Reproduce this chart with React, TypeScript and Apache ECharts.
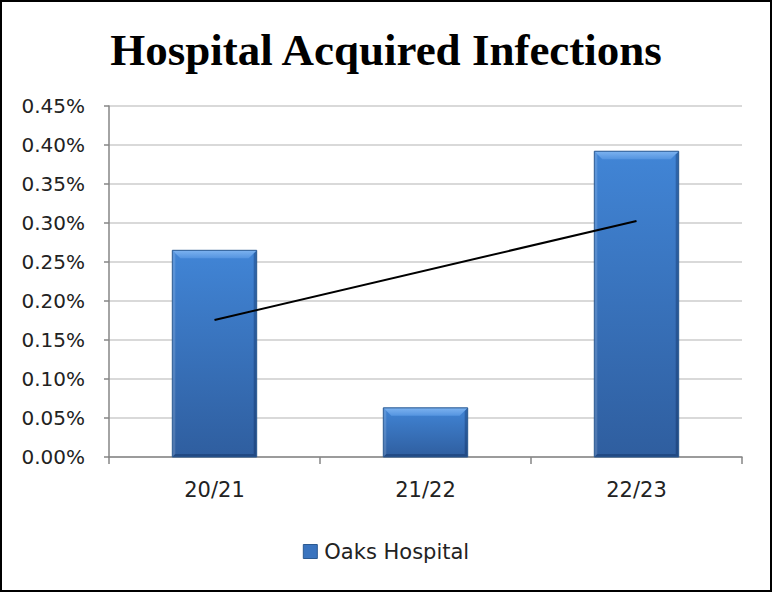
import React, { useEffect, useRef } from "react";
import * as echarts from "echarts";

const categories = ["20/21", "21/22", "22/23"];
const values = [0.265, 0.063, 0.392];
const trendValues = [0.1756, null, 0.3026];
const yTicks = { min: 0, max: 0.45, interval: 0.05 };
const seriesName = "Oaks Hospital";
const titleText = "Hospital Acquired Infections";

export default function App() {
  const ref = useRef<HTMLDivElement>(null);
  useEffect(() => {
    document.body.style.margin = "0";
    const chart = echarts.init(ref.current!, null, { renderer: "svg" });
    const font = "DejaVu Sans";
    const mainFill = new echarts.graphic.LinearGradient(0, 0, 0, 1, [
      { offset: 0, color: "#4185d6" },
      { offset: 1, color: "#2f5e9f" },
    ]);
    const topFill = new echarts.graphic.LinearGradient(0, 0, 0, 1, [
      { offset: 0, color: "#7db3f0" },
      { offset: 1, color: "#5494e0" },
    ]);
    const option: any = {
      animation: false,
      backgroundColor: "#ffffff",
      title: {
        text: titleText,
        left: "center",
        top: 22,
        textStyle: {
          fontFamily: "Liberation Serif",
          fontWeight: "bold",
          fontSize: 45,
          color: "#000",
        },
      },
      grid: { left: 109, right: 30, top: 106, bottom: 135, containLabel: false },
      legend: {
        data: [
          {
            name: seriesName,
            icon: "rect",
            itemStyle: { color: "#3a74bf", borderColor: "#2c5a91", borderWidth: 1 },
          },
        ],
        top: 536,
        left: "center",
        itemWidth: 14,
        itemHeight: 14,
        itemGap: 6,
        textStyle: { fontFamily: font, fontSize: 21, color: "#222", padding: [0, 0, 0, 2] },
      },
      xAxis: {
        type: "category",
        data: categories,
        boundaryGap: true,
        axisLine: { show: true, lineStyle: { color: "#868686", width: 1.5 } },
        axisTick: { show: true, length: 7, alignWithLabel: false, lineStyle: { color: "#868686", width: 1.5 } },
        axisLabel: { fontFamily: font, fontSize: 21, color: "#222", margin: 22 },
        splitLine: { show: false },
      },
      yAxis: {
        type: "value",
        min: yTicks.min,
        max: yTicks.max,
        interval: yTicks.interval,
        axisLine: { show: true, lineStyle: { color: "#868686", width: 1.5 } },
        axisTick: { show: true, length: 5, inside: false, lineStyle: { color: "#868686", width: 1.5 } },
        axisLabel: {
          fontFamily: font,
          fontSize: 20,
          color: "#222",
          margin: 24,
          formatter: (v: number) => v.toFixed(2) + "%",
        },
        splitLine: { show: true, lineStyle: { color: "#d9d9d9", width: 2 } },
      },
      series: [
        {
          name: seriesName,
          type: "custom",
          data: categories.map((c, i) => [i, values[i]]),
          encode: { x: 0, y: 1 },
          itemStyle: { color: "#3a74bf" },
          renderItem: (params: any, api: any) => {
            const idx = api.value(0);
            const v = api.value(1);
            const top = api.coord([idx, v]);
            const base = api.coord([idx, 0]);
            const band = api.size([1, 0])[0];
            const w = band * 0.4;
            const x0 = top[0] - w / 2;
            const x1 = top[0] + w / 2;
            const y0 = top[1];
            const y1 = base[1];
            const h = y1 - y0;
            const t = Math.min(8, h / 3);
            const s = 3;
            const bm = Math.min(3, h / 4);
            return {
              type: "group",
              children: [
                {
                  type: "rect",
                  shape: { x: x0, y: y0, width: w, height: h },
                  style: { fill: mainFill },
                },
                {
                  type: "polygon",
                  shape: { points: [[x0, y0], [x0 + s, y0 + s], [x0 + s, y1 - bm], [x0, y1]] },
                  style: { fill: "rgba(255,255,255,0.15)" },
                },
                {
                  type: "polygon",
                  shape: { points: [[x1, y0], [x1 - s, y0 + s], [x1 - s, y1 - bm], [x1, y1]] },
                  style: { fill: "rgba(0,20,60,0.28)" },
                },
                {
                  type: "polygon",
                  shape: { points: [[x0, y1], [x0 + s, y1 - bm], [x1 - s, y1 - bm], [x1, y1]] },
                  style: { fill: "rgba(0,20,60,0.28)" },
                },
                {
                  type: "polygon",
                  shape: { points: [[x0, y0], [x1, y0], [x1 - t, y0 + t], [x0 + t, y0 + t]] },
                  style: { fill: topFill },
                },
                {
                  type: "rect",
                  shape: { x: x0, y: y0, width: w, height: h },
                  style: { fill: "none", stroke: "#2c5a91", lineWidth: 1 },
                },
              ],
            };
          },
          z: 2,
        },
        {
          name: "Trend",
          type: "line",
          data: trendValues,
          connectNulls: true,
          showSymbol: false,
          symbol: "none",
          lineStyle: { color: "#000", width: 2 },
          z: 5,
        },
      ],
      graphic: [
        {
          type: "rect",
          shape: { x: 1, y: 1, width: 770, height: 590 },
          style: { fill: "none", stroke: "#000", lineWidth: 2 },
          z: 100,
        },
      ],
    };
    chart.setOption(option);
    return () => chart.dispose();
  }, []);
  return <div ref={ref} style={{ width: 772, height: 592 }} />;
}
